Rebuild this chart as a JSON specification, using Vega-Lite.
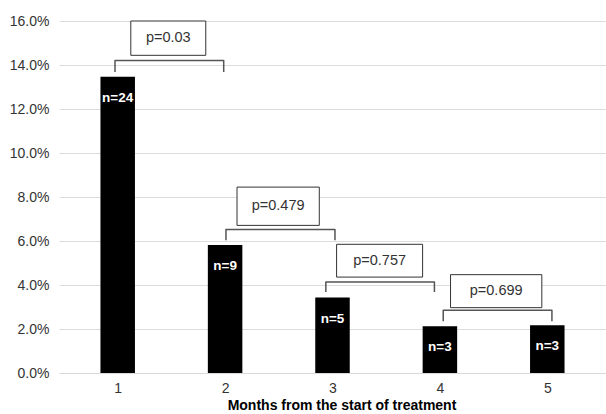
{
  "$schema": "https://vega.github.io/schema/vega-lite/v6.json",
  "width": 547,
  "height": 352,
  "autosize": {"type": "none"},
  "padding": {"left": 59, "top": 21, "right": 0, "bottom": 41},
  "background": "white",
  "config": {
    "view": {"stroke": null},
    "font": "Liberation Sans",
    "axis": {"labelFont": "Liberation Sans", "titleFont": "Liberation Sans"}
  },
  "datasets": {
    "bars": [
      {"month": 1, "rate": 0.1347, "label": "n=24"},
      {"month": 2, "rate": 0.0582, "label": "n=9"},
      {"month": 3, "rate": 0.0343, "label": "n=5"},
      {"month": 4, "rate": 0.0212, "label": "n=3"},
      {"month": 5, "rate": 0.0217, "label": "n=3"}
    ],
    "brackets": [
      {"g": 1, "o": 0, "x": 0.975, "y": 0.1368},
      {"g": 1, "o": 1, "x": 0.975, "y": 0.1421},
      {"g": 1, "o": 2, "x": 1.987, "y": 0.1421},
      {"g": 1, "o": 3, "x": 1.987, "y": 0.1368},
      {"g": 2, "o": 0, "x": 2.008, "y": 0.0603},
      {"g": 2, "o": 1, "x": 2.008, "y": 0.0652},
      {"g": 2, "o": 2, "x": 3.023, "y": 0.0652},
      {"g": 2, "o": 3, "x": 3.023, "y": 0.0603},
      {"g": 3, "o": 0, "x": 2.938, "y": 0.0368},
      {"g": 3, "o": 1, "x": 2.938, "y": 0.0414},
      {"g": 3, "o": 2, "x": 3.949, "y": 0.0414},
      {"g": 3, "o": 3, "x": 3.949, "y": 0.0368},
      {"g": 4, "o": 0, "x": 4.031, "y": 0.0235},
      {"g": 4, "o": 1, "x": 4.031, "y": 0.0285},
      {"g": 4, "o": 2, "x": 5.043, "y": 0.0285},
      {"g": 4, "o": 3, "x": 5.043, "y": 0.0235}
    ],
    "boxes": [
      {"x1": 1.122, "x2": 1.820, "y1": 0.1444, "y2": 0.1600, "xc": 1.471, "yc": 0.1522, "p": "p=0.03"},
      {"x1": 2.111, "x2": 2.877, "y1": 0.0671, "y2": 0.0845, "xc": 2.494, "yc": 0.0758, "p": "p=0.479"},
      {"x1": 3.038, "x2": 3.839, "y1": 0.0436, "y2": 0.0585, "xc": 3.439, "yc": 0.05105, "p": "p=0.757"},
      {"x1": 4.099, "x2": 4.949, "y1": 0.0297, "y2": 0.0447, "xc": 4.524, "yc": 0.0372, "p": "p=0.699"}
    ]
  },
  "layer": [
    {
      "data": {"name": "bars"},
      "mark": {"type": "bar", "width": 34.5, "color": "black"},
      "encoding": {
        "x": {
          "field": "month", "type": "quantitative",
          "scale": {"domain": [0.5, 5.5], "nice": false, "zero": false},
          "axis": {
            "values": [1, 2, 3, 4, 5], "format": "d", "grid": false, "ticks": false,
            "domain": true, "domainColor": "#d9d9d9", "labelFontSize": 14, "labelColor": "#333333",
            "labelPadding": 8, "title": "Months from the start of treatment",
            "titleFontSize": 14, "titleFontWeight": "bold", "titleColor": "#000000", "titlePadding": 3,
            "titleX": 282.5, "titleAlign": "center"
          }
        },
        "y": {
          "field": "rate", "type": "quantitative",
          "scale": {"domain": [0, 0.16], "nice": false},
          "axis": {
            "values": [0, 0.02, 0.04, 0.06, 0.08, 0.1, 0.12, 0.14, 0.16], "format": ".1%",
            "domain": false, "ticks": false, "gridColor": "#dcdcdc", "gridWidth": 1,
            "labelFontSize": 14, "labelColor": "#333333", "labelPadding": 10, "title": null
          }
        }
      }
    },
    {
      "data": {"name": "bars"},
      "mark": {"type": "text", "color": "white", "fontWeight": "bold", "fontSize": 13.5, "baseline": "middle", "dy": 21},
      "encoding": {
        "x": {"field": "month", "type": "quantitative"},
        "y": {"field": "rate", "type": "quantitative"},
        "text": {"field": "label"}
      }
    },
    {
      "data": {"name": "brackets"},
      "mark": {"type": "line", "color": "#555555", "strokeWidth": 1.5, "strokeJoin": "round"},
      "encoding": {
        "x": {"field": "x", "type": "quantitative"},
        "y": {"field": "y", "type": "quantitative"},
        "detail": {"field": "g"},
        "order": {"field": "o"}
      }
    },
    {
      "data": {"name": "boxes"},
      "mark": {"type": "rect", "fill": "white", "stroke": "#333333", "strokeWidth": 1},
      "encoding": {
        "x": {"field": "x1", "type": "quantitative"},
        "x2": {"field": "x2"},
        "y": {"field": "y1", "type": "quantitative"},
        "y2": {"field": "y2"}
      }
    },
    {
      "data": {"name": "boxes"},
      "mark": {"type": "text", "fontSize": 14.5, "color": "#333333", "baseline": "middle", "align": "center"},
      "encoding": {
        "x": {"field": "xc", "type": "quantitative"},
        "y": {"field": "yc", "type": "quantitative"},
        "text": {"field": "p"}
      }
    }
  ]
}
